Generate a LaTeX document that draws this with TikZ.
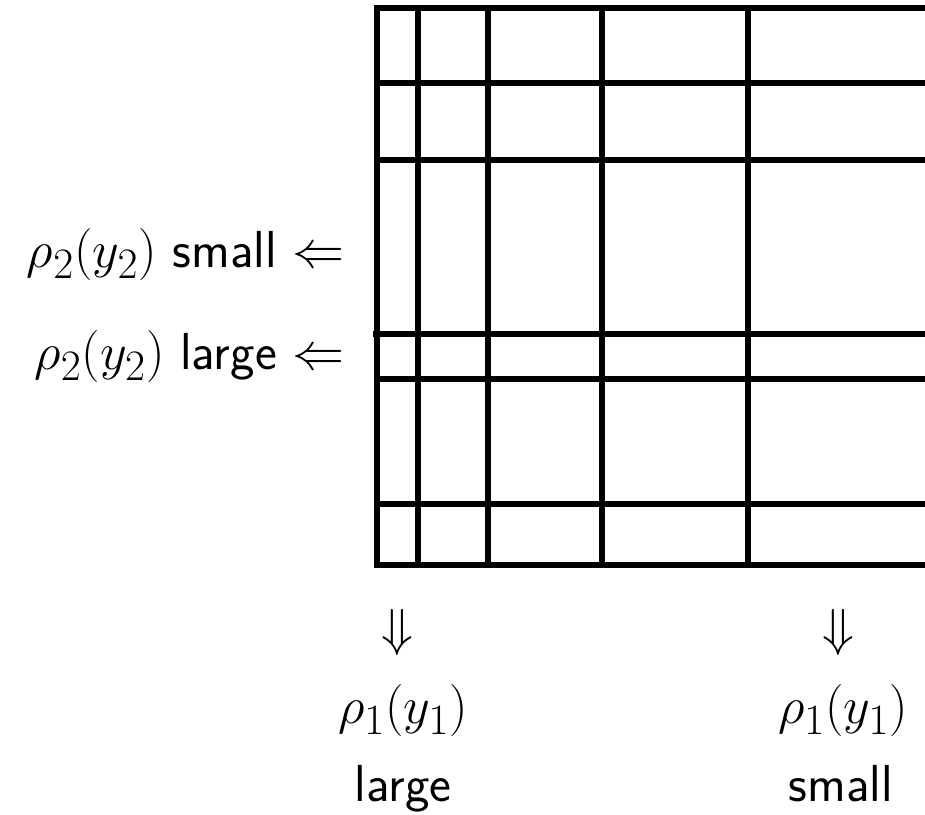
\documentclass[tikz,border=0pt]{standalone}
\usepackage{amsmath,amssymb}
\usetikzlibrary{positioning}

\begin{document}
\begin{tikzpicture}[x=0.478pt,y=-0.478pt,
    grid/.style={line width=2.87pt,black},
    lbl/.style={font=\Huge,inner sep=0pt}]
    \useasboundingbox (0,0) rectangle (925,815);
    % frame, open to the right
    \draw[grid] (925,8) -- (377,8) -- (377,565) -- (925,565);
    % columns
    \foreach \x in {418,488,602,748}
        \draw[grid] (\x,8) -- (\x,565);
    % rows
    \foreach \y in {83,160,379,504}
        \draw[grid] (377,\y) -- (925,\y);
    \draw[grid] (373,334) -- (925,334);
    % row labels
    \node[lbl,anchor=base east] (rowsmall) at (345,268)
        {$\rho_2(y_2)$ \textsf{small} $\Leftarrow$};
    \node[lbl,anchor=base east] (rowlarge) at (345,370)
        {$\rho_2(y_2)$ \textsf{large} $\Leftarrow$};
    % column labels
    \node[lbl,anchor=base] (arrlarge) at (397,646) {$\Downarrow$};
    \node[lbl,anchor=base] (rholarge) at (403,724) {$\rho_1(y_1)$};
    \node[lbl,anchor=base] (wordlarge) at (403,802) {\textsf{large}};
    \node[lbl,anchor=base] (arrsmall) at (838,646) {$\Downarrow$};
    \node[lbl,anchor=base] (rhosmall) at (843,724) {$\rho_1(y_1)$};
    \node[lbl,anchor=base] (wordsmall) at (841,802) {\textsf{small}};
\end{tikzpicture}
\end{document}
